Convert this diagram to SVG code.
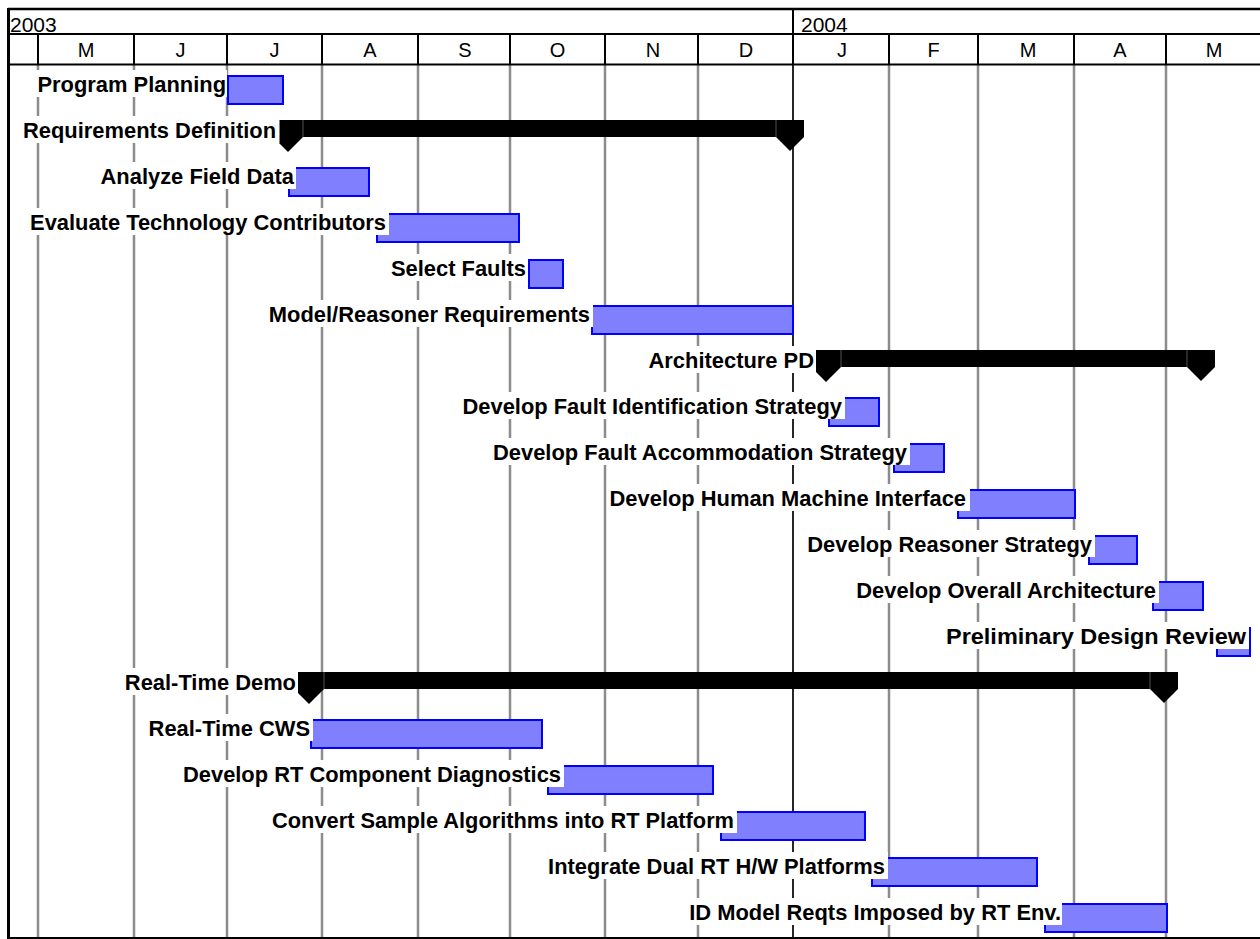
<svg xmlns="http://www.w3.org/2000/svg" width="1260" height="939" viewBox="0 0 1260 939">
<style>
.bg{fill:#ffffff}
.hdr{stroke:#000;stroke-width:2;fill:none}
.grid{stroke:#8c8c8c;stroke-width:2.5}
.yr{font-family:"Liberation Sans",Arial,sans-serif;font-size:21px;fill:#000}
.mo{font-family:"Liberation Sans",Arial,sans-serif;font-size:20px;fill:#000;text-anchor:middle}
.lbl{font-family:"Liberation Sans",Arial,sans-serif;font-size:21.9px;font-weight:bold;fill:#000;text-anchor:end}
.box{fill:#ffffff}
.task{fill:#8080ff;stroke:#0000ff;stroke-width:2}
.sum{fill:#000}
.sep{stroke:#666;stroke-width:0.8}
</style>
<rect class="bg" x="0" y="0" width="1260" height="939"/>
<g id="grid">
<line class="grid" x1="38" y1="65" x2="38" y2="938"/>
<line class="grid" x1="134" y1="65" x2="134" y2="938"/>
<line class="grid" x1="227" y1="65" x2="227" y2="938"/>
<line class="grid" x1="322" y1="65" x2="322" y2="938"/>
<line class="grid" x1="418" y1="65" x2="418" y2="938"/>
<line class="grid" x1="510" y1="65" x2="510" y2="938"/>
<line class="grid" x1="605" y1="65" x2="605" y2="938"/>
<line class="grid" x1="698" y1="65" x2="698" y2="938"/>
<line class="grid" x1="889" y1="65" x2="889" y2="938"/>
<line class="grid" x1="978" y1="65" x2="978" y2="938"/>
<line class="grid" x1="1074" y1="65" x2="1074" y2="938"/>
<line class="grid" x1="1166" y1="65" x2="1166" y2="938"/>
<line x1="793" y1="9" x2="793" y2="938" stroke="#000" stroke-width="1.7"/>
</g>
<g id="header">
<line x1="8" y1="9" x2="1260" y2="9" stroke="#000" stroke-width="2.5"/>
<line class="hdr" x1="8" y1="34" x2="1260" y2="34"/>
<line class="hdr" x1="8" y1="64.5" x2="1260" y2="64.5"/>
<line class="hdr" x1="38" y1="34" x2="38" y2="64"/>
<line class="hdr" x1="134" y1="34" x2="134" y2="64"/>
<line class="hdr" x1="227" y1="34" x2="227" y2="64"/>
<line class="hdr" x1="322" y1="34" x2="322" y2="64"/>
<line class="hdr" x1="418" y1="34" x2="418" y2="64"/>
<line class="hdr" x1="510" y1="34" x2="510" y2="64"/>
<line class="hdr" x1="605" y1="34" x2="605" y2="64"/>
<line class="hdr" x1="698" y1="34" x2="698" y2="64"/>
<line class="hdr" x1="793" y1="9" x2="793" y2="64"/>
<line class="hdr" x1="889" y1="34" x2="889" y2="64"/>
<line class="hdr" x1="978" y1="34" x2="978" y2="64"/>
<line class="hdr" x1="1074" y1="34" x2="1074" y2="64"/>
<line class="hdr" x1="1166" y1="34" x2="1166" y2="64"/>
<text class="yr" x="10" y="31.5">2003</text>
<text class="yr" x="801" y="31.5">2004</text>
<text class="mo" x="86" y="57">M</text>
<text class="mo" x="180.5" y="57">J</text>
<text class="mo" x="274.5" y="57">J</text>
<text class="mo" x="370" y="57">A</text>
<text class="mo" x="465" y="57">S</text>
<text class="mo" x="557.5" y="57">O</text>
<text class="mo" x="653" y="57">N</text>
<text class="mo" x="746" y="57">D</text>
<text class="mo" x="842" y="57">J</text>
<text class="mo" x="933.5" y="57">F</text>
<text class="mo" x="1028" y="57">M</text>
<text class="mo" x="1120" y="57">A</text>
<text class="mo" x="1214" y="57">M</text>
</g>

<g id="t0">
<rect class="task" x="228" y="76" width="55" height="28"/>
<rect class="box" x="36" y="70" width="191" height="27"/>
<text class="lbl" x="226" y="91.5">Program Planning</text>
</g>
<g id="t1">
<rect class="sum" x="288" y="120" width="502" height="17"/>
<polygon class="sum" points="273,120 303,120 303,137 288,152 273,137"/>
<polygon class="sum" points="776,120 804,120 804,137 790,151 776,137"/>
<line class="sep" x1="303" y1="120" x2="303" y2="137"/>
<line class="sep" x1="776" y1="120" x2="776" y2="137"/>
<rect class="box" x="21" y="116" width="258.5" height="27"/>
<text class="lbl" x="276" y="137.5">Requirements Definition</text>
</g>
<g id="t2">
<rect class="task" x="289" y="168" width="80" height="28"/>
<rect class="box" x="98" y="162" width="198" height="27"/>
<text class="lbl" x="294" y="183.5">Analyze Field Data</text>
</g>
<g id="t3">
<rect class="task" x="377" y="214" width="142" height="28"/>
<rect class="box" x="27" y="208" width="362" height="27"/>
<text class="lbl" x="386" y="229.5">Evaluate Technology Contributors</text>
</g>
<g id="t4">
<rect class="task" x="529" y="260" width="34" height="28"/>
<rect class="box" x="387" y="254" width="141" height="27"/>
<text class="lbl" x="526" y="275.5">Select Faults</text>
</g>
<g id="t5">
<rect class="task" x="592" y="306" width="201" height="28"/>
<rect class="box" x="267" y="300" width="326" height="27"/>
<text class="lbl" x="590" y="321.5">Model/Reasoner Requirements</text>
</g>
<g id="t6">
<rect class="sum" x="826" y="350" width="375" height="17"/>
<polygon class="sum" points="811,350 841,350 841,367 826,382 811,367"/>
<polygon class="sum" points="1187,350 1215,350 1215,367 1201,381 1187,367"/>
<line class="sep" x1="841" y1="350" x2="841" y2="367"/>
<line class="sep" x1="1187" y1="350" x2="1187" y2="367"/>
<rect class="box" x="646" y="346" width="170" height="27"/>
<text class="lbl" x="814" y="367.5">Architecture PD</text>
</g>
<g id="t7">
<rect class="task" x="829" y="398" width="50" height="28"/>
<rect class="box" x="461" y="392" width="384" height="27"/>
<text class="lbl" x="842" y="413.5">Develop Fault Identification Strategy</text>
</g>
<g id="t8">
<rect class="task" x="894" y="444" width="50" height="28"/>
<rect class="box" x="491" y="438" width="419" height="27"/>
<text class="lbl" x="907" y="459.5">Develop Fault Accommodation Strategy</text>
</g>
<g id="t9">
<rect class="task" x="958" y="490" width="117" height="28"/>
<rect class="box" x="608.5" y="484" width="361.5" height="27"/>
<text class="lbl" x="966" y="505.5">Develop Human Machine Interface</text>
</g>
<g id="t10">
<rect class="task" x="1089" y="536" width="48" height="28"/>
<rect class="box" x="805.5" y="530" width="289.5" height="27"/>
<text class="lbl" x="1092" y="551.5">Develop Reasoner Strategy</text>
</g>
<g id="t11">
<rect class="task" x="1153" y="582" width="50" height="28"/>
<rect class="box" x="853" y="576" width="306" height="27"/>
<text class="lbl" x="1156" y="597.5">Develop Overall Architecture</text>
</g>
<g id="t12">
<rect class="task" x="1217" y="628" width="33" height="28"/>
<rect class="box" x="942" y="622" width="307" height="27"/>
<text class="lbl" x="1246" y="643.5" textLength="300" lengthAdjust="spacingAndGlyphs">Preliminary Design Review</text>
</g>
<g id="t13">
<rect class="sum" x="309" y="672" width="855" height="17"/>
<polygon class="sum" points="294,672 324,672 324,689 309,704 294,689"/>
<polygon class="sum" points="1150,672 1178,672 1178,689 1164,703 1150,689"/>
<line class="sep" x1="324" y1="672" x2="324" y2="689"/>
<line class="sep" x1="1150" y1="672" x2="1150" y2="689"/>
<rect class="box" x="122" y="668" width="176" height="27"/>
<text class="lbl" x="296" y="689.5">Real-Time Demo</text>
</g>
<g id="t14">
<rect class="task" x="311" y="720" width="231" height="28"/>
<rect class="box" x="146" y="714" width="167" height="27"/>
<text class="lbl" x="310" y="735.5">Real-Time CWS</text>
</g>
<g id="t15">
<rect class="task" x="548" y="766" width="165" height="28"/>
<rect class="box" x="180" y="760" width="384" height="27"/>
<text class="lbl" x="561" y="781.5" textLength="378" lengthAdjust="spacingAndGlyphs">Develop RT Component Diagnostics</text>
</g>
<g id="t16">
<rect class="task" x="721" y="812" width="144" height="28"/>
<rect class="box" x="267" y="806" width="470" height="27"/>
<text class="lbl" x="734" y="827.5" textLength="462" lengthAdjust="spacingAndGlyphs">Convert Sample Algorithms into RT Platform</text>
</g>
<g id="t17">
<rect class="task" x="872" y="858" width="165" height="28"/>
<rect class="box" x="546" y="852" width="342" height="27"/>
<text class="lbl" x="885" y="873.5">Integrate Dual RT H/W Platforms</text>
</g>
<g id="t18">
<rect class="task" x="1045" y="904" width="122" height="28"/>
<rect class="box" x="686" y="898" width="376" height="27"/>
<text class="lbl" x="1061" y="919.5">ID Model Reqts Imposed by RT Env.</text>
</g>

<g id="frame">
<line x1="8.5" y1="8" x2="8.5" y2="939" stroke="#000" stroke-width="3"/>
<line x1="8" y1="938" x2="1260" y2="938" stroke="#000" stroke-width="2"/>
</g>
</svg>
